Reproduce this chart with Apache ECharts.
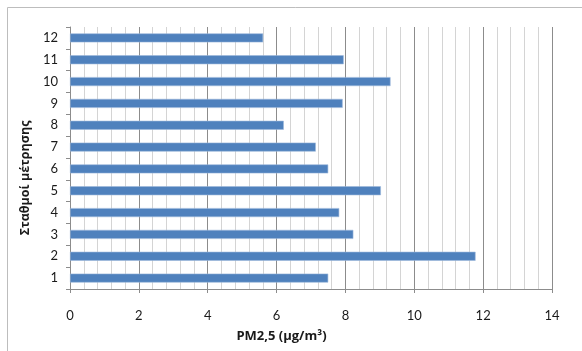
<!DOCTYPE html>
<html><head><meta charset="utf-8">
<script src="https://cdn.jsdelivr.net/npm/echarts@6/dist/echarts.min.js"></script>
<style>html,body{margin:0;padding:0;background:#fff}#c{width:582px;height:351px}</style>
</head><body><div id="c"></div>
<script>
const categories = ['1','2','3','4','5','6','7','8','9','10','11','12'];
const pm25 = [7.50, 11.78, 8.23, 7.82, 9.03, 7.50, 7.14, 6.21, 7.92, 9.31, 7.95, 5.61];
const xTicks = [0, 2, 4, 6, 8, 10, 12, 14];

const chart = echarts.init(document.getElementById('c'), null, {renderer: 'canvas'});
const font = 'Lato, "Open Sans", sans-serif';
const nameFont = '"Open Sans", Lato, sans-serif';
chart.setOption({
  animation: false,
  graphic: [{type: 'rect', shape: {x: 7.5, y: 7.5, width: 600, height: 400}, style: {fill: 'none', stroke: '#bdbdbd', lineWidth: 1}, z: -10}],
  grid: {left: 70, right: 30, top: 27, bottom: 62, containLabel: false},
  xAxis: {
    type: 'value', min: xTicks[0], max: xTicks[xTicks.length - 1], interval: 2,
    name: 'PM2,5 (μg/m³)', nameLocation: 'middle', nameGap: 41,
    nameTextStyle: {fontFamily: nameFont, fontWeight: 'bold', fontSize: 13, color: '#1a1a1a', padding: [0, 59, 0, 0]},
    axisLine: {show: true, lineStyle: {color: '#8c8c8c'}},
    axisTick: {show: true, length: 4, lineStyle: {color: '#8c8c8c'}},
    axisLabel: {fontFamily: font, fontSize: 13, color: '#1a1a1a', margin: 20},
    splitLine: {show: true, lineStyle: {color: '#8c8c8c', width: 1}},
    minorTick: {show: false, splitNumber: 5},
    minorSplitLine: {show: true, lineStyle: {color: '#d4d4d4', width: 1}}
  },
  yAxis: {
    type: 'category', data: categories,
    name: 'Σταθμοί μέτρησης', nameLocation: 'middle', nameGap: 36, nameRotate: 90,
    nameTextStyle: {fontFamily: nameFont, fontWeight: 'bold', fontSize: 12.5, color: '#1a1a1a', padding: [0, 40, 0, 0]},
    axisLine: {show: true, lineStyle: {color: '#8c8c8c'}},
    axisTick: {show: true, length: 4, alignWithLabel: false, lineStyle: {color: '#8c8c8c'}},
    axisLabel: {fontFamily: font, fontSize: 13, color: '#1a1a1a', margin: 12},
    splitLine: {show: false}
  },
  series: [{
    type: 'bar', data: pm25, barWidth: 9,
    itemStyle: {color: '#4f81bd', borderColor: '#9db8dc', borderWidth: 0.6}
  }]
});
</script></body></html>
